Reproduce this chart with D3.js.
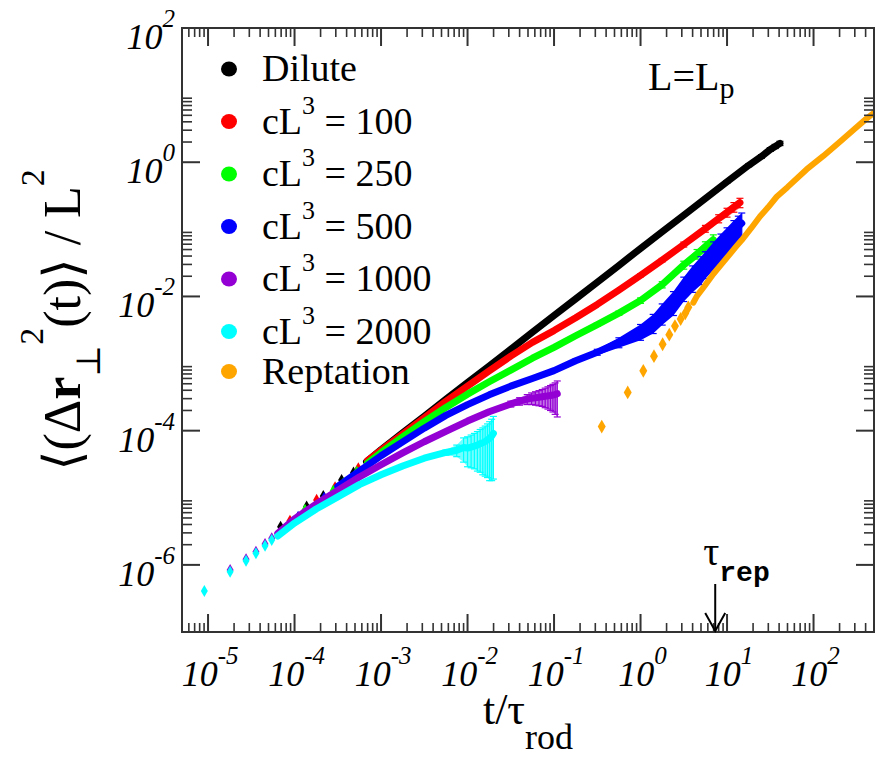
<!DOCTYPE html>
<html>
<head>
<meta charset="utf-8">
<script src="https://cdn.jsdelivr.net/npm/d3@7"></script>
<style>
  body { margin: 0; background: #fff; }
</style>
</head>
<body>
<div id="chart"></div>
<script>
// Axis ranges and ticks
const xDomain = [5e-6, 500];
const yDomain = [1e-7, 1e2];
const xMajorExps = [-5, -4, -3, -2, -1, 0, 1, 2];
const yMajorExps = [-6, -4, -2, 0, 2];
const tauRep = 7.3;

// Series: [t/tau_rod, <dr^2>/L^2, error]
const dilute = [
  [6.9e-5, 3.7e-6], [1.38e-4, 7.4e-6], [2.15e-4, 1.06e-5], [3.5e-4, 1.84e-5], [4.8e-4, 2.37e-5],
  [6.8e-4, 3.45e-5], [1e-3, 5.2e-5], [1.78e-3, 9.3e-5], [3.16e-3, 1.64e-4], [5.62e-3, 2.93e-4],
  [0.01, 5.2e-4], [0.0178, 9.2e-4], [0.0316, 1.64e-3], [0.0562, 2.92e-3], [0.1, 5.2e-3],
  [0.178, 9.2e-3], [0.316, 0.0163], [0.562, 0.029], [1, 0.052], [1.78, 0.092], [3.16, 0.162],
  [5.62, 0.288], [10, 0.51, 0.02], [17.8, 0.9, 0.04], [25, 1.22, 0.07], [31.6, 1.55, 0.1],
  [36, 1.72, 0.12], [40.9, 1.91, 0.14]
];
const conc100 = [
  [8.85e-5, 4.55e-6], [1.8e-4, 9.3e-6], [2.94e-4, 1.43e-5], [5.46e-4, 2.75e-5],
  [7e-4, 3.6e-5], [1e-3, 5.1e-5], [1.78e-3, 8.9e-5], [3.16e-3, 1.56e-4], [5.62e-3, 2.73e-4],
  [0.01, 4.6e-4], [0.0178, 7.8e-4], [0.0316, 1.29e-3], [0.0562, 2.07e-3], [0.1, 3.1e-3],
  [0.178, 4.8e-3], [0.316, 7.6e-3], [0.562, 0.0124], [1, 0.0206, 0.001], [1.78, 0.0348, 0.002],
  [3.16, 0.0595, 0.005], [5.62, 0.1025, 0.012], [8, 0.145, 0.02], [10, 0.179, 0.027],
  [12, 0.215, 0.035], [14.1, 0.25, 0.04]
];
const conc250 = [
  [1.32e-4, 6.6e-6], [2.8e-4, 1.27e-5], [3.66e-4, 1.64e-5], [5.24e-4, 2.45e-5],
  [7e-4, 3.3e-5], [1e-3, 4.7e-5], [1.78e-3, 8.1e-5], [3.16e-3, 1.36e-4], [5.62e-3, 2.22e-4],
  [0.01, 3.5e-4], [0.0178, 5.35e-4], [0.0316, 8.0e-4], [0.0562, 1.2e-3], [0.1, 1.74e-3],
  [0.178, 2.6e-3], [0.316, 3.8e-3, 2e-4], [0.562, 5.64e-3, 4e-4], [1, 8.7e-3, 8e-4],
  [1.78, 0.015, 0.0016], [3.16, 0.0295, 0.004], [4.5, 0.043, 0.007], [5.62, 0.0552, 0.01],
  [6.94, 0.0697, 0.013]
];
const conc500 = [
  [1.1e-4, 5.2e-6], [2.2e-4, 1.0e-5],
  [3.16e-4, 1.48e-5], [5.62e-4, 2.5e-5], [1e-3, 4.23e-5], [1.78e-3, 6.8e-5], [3.16e-3, 1.09e-4],
  [5.62e-3, 1.69e-4], [0.01, 2.44e-4], [0.0178, 3.42e-4], [0.0316, 4.61e-4], [0.0562, 6.0e-4],
  [0.1, 7.85e-4, 3e-5], [0.178, 1.1e-3, 6e-5], [0.316, 1.48e-3, 1.5e-4], [0.562, 2.07e-3, 3.5e-4],
  [1, 3.02e-3, 8e-4], [1.4, 4.1e-3, 1.3e-3], [1.78, 5.74e-3, 2e-3], [2.4, 8.5e-3, 3.3e-3],
  [3.16, 0.0139, 5.5e-3], [4, 0.02, 8.5e-3], [5, 0.027, 0.012], [5.62, 0.0324, 0.014],
  [7, 0.045, 0.02], [8.5, 0.059, 0.026], [10, 0.0733, 0.032], [12, 0.095, 0.04],
  [13.5, 0.11, 0.047], [14.8, 0.123, 0.052]
];
const conc1000 = [
  [1.8e-5, 8.4e-7], [2.75e-5, 1.21e-6], [3.58e-5, 1.57e-6], [4.56e-5, 2.05e-6], [5.45e-5, 2.49e-6],
  [6.4e-5, 2.95e-6], [1e-4, 4.86e-6], [1.78e-4, 8.07e-6], [3.16e-4, 1.29e-5], [5.62e-4, 2.04e-5],
  [1e-3, 3.11e-5], [1.78e-3, 4.66e-5], [3.16e-3, 6.84e-5], [5.62e-3, 9.75e-5],
  [0.01, 1.39e-4, 5e-6], [0.0178, 1.91e-4, 1e-5], [0.0316, 2.5e-4, 2.5e-5], [0.04, 2.75e-4, 3.5e-5],
  [0.049, 2.95e-4, 5e-5], [0.055, 3.05e-4, 6e-5], [0.061, 3.1e-4, 7e-5], [0.067, 3.15e-4, 8e-5],
  [0.073, 3.2e-4, 9e-5], [0.079, 3.25e-4, 1.05e-4], [0.085, 3.3e-4, 1.2e-4], [0.091, 3.35e-4, 1.35e-4],
  [0.097, 3.4e-4, 1.5e-4], [0.103, 3.45e-4, 1.7e-4], [0.109, 3.55e-4, 1.95e-4]
];
const conc2000 = [
  [9.06e-6, 4.08e-7], [1.8e-5, 7.9e-7], [2.75e-5, 1.15e-6], [3.58e-5, 1.49e-6], [4.56e-5, 1.93e-6],
  [5.45e-5, 2.35e-6],
  [6.4e-5, 2.7e-6], [1e-4, 4.2e-6], [1.78e-4, 6.8e-6], [3.16e-4, 1.03e-5], [5.62e-4, 1.57e-5],
  [1e-3, 2.2e-5], [1.78e-3, 2.98e-5], [3.16e-3, 3.89e-5], [5.62e-3, 4.73e-5, 4e-6],
  [0.0075, 5.1e-5, 1e-5], [0.009, 5.6e-5, 2.2e-5], [0.010, 5.5e-5, 2.6e-5], [0.011, 5.7e-5, 2.9e-5],
  [0.012, 5.9e-5, 3.2e-5], [0.013, 6.1e-5, 3.6e-5], [0.014, 6.4e-5, 4.0e-5], [0.015, 6.6e-5, 4.4e-5],
  [0.016, 6.9e-5, 4.8e-5], [0.017, 7.3e-5, 5.3e-5], [0.018, 7.7e-5, 5.9e-5], [0.019, 8.3e-5, 6.5e-5],
  [0.0199, 9.1e-5, 7.2e-5]
];
const reptation = [
  [0.356, 1.15e-4], [0.711, 3.71e-4], [1.076, 7.8e-4], [1.43, 1.29e-3], [1.80, 1.94e-3],
  [2.15, 2.69e-3], [2.50, 3.62e-3], [2.91, 4.61e-3], [3.29, 5.61e-3], [3.57, 6.89e-3],
  [4.07, 8.07e-3], [4.5, 0.0102], [5.5, 0.0143], [6.94, 0.0216], [8.5, 0.0296], [10.5, 0.041],
  [12.5, 0.0538], [14.8, 0.0693], [19, 0.104], [24, 0.155], [30, 0.215], [37.5, 0.306],
  [50, 0.425], [83, 0.78], [130, 1.24], [202, 2.02], [300, 3.15], [400, 4.35], [491, 5.36]
];

const legendLabels = ["Dilute", "cL^3 = 100", "cL^3 = 250", "cL^3 = 500", "cL^3 = 1000", "cL^3 = 2000", "Reptation"];
const seriesColors = ["#000000", "#ff0000", "#00ff00", "#0000ff", "#9400d3", "#00ffff", "#ffa500"];
// t from which the sampling is dense enough to look like a continuous band
const bandStarts = [6.8e-4, 7e-4, 7e-4, 3.16e-4, 6.4e-5, 6.4e-5, 4.07];
const seriesData = [dilute, conc100, conc250, conc500, conc1000, conc2000, reptation];

// Layout
const width = 882, height = 757;
const plot = { left: 182, top: 28, right: 874, bottom: 632 };
const fontFamily = "'Liberation Serif', 'DejaVu Serif', 'Liberation Sans', sans-serif";
const axisColor = "#333";

const svg = d3.select("#chart").append("svg")
    .attr("width", width)
    .attr("height", height)
    .style("font-family", fontFamily);

const x = d3.scaleLog().domain(xDomain).range([plot.left, plot.right]);
const y = d3.scaleLog().domain(yDomain).range([plot.bottom, plot.top]);

svg.append("defs").append("clipPath").attr("id", "clip")
    .append("rect")
    .attr("x", plot.left).attr("y", plot.top)
    .attr("width", plot.right - plot.left).attr("height", plot.bottom - plot.top);

// Data
const dataG = svg.append("g").attr("clip-path", "url(#clip)");
const yLow = (d) => y(Math.max(d[1] - (d[2] || 0), yDomain[0] / 10));
const yHigh = (d) => y(d[1] + (d[2] || 0));

seriesData.forEach((data, i) => {
    const color = seriesColors[i];
    const band = data.filter(d => d[0] >= bandStarts[i]);
    const sparse = data.filter(d => d[0] < bandStarts[i]);
    const g = dataG.append("g");

    // dense error bars merge into a filled region
    const withErr = band.filter(d => d[2]);
    if (withErr.length) {
        const first = band.indexOf(withErr[0]);
        const errPart = band.slice(Math.max(first - 1, 0));
        g.append("path")
            .attr("d", d3.area().x(d => x(d[0])).y0(yLow).y1(yHigh)(errPart))
            .attr("fill", color)
            .attr("fill-opacity", i === 3 ? 1 : 0.55);
    }

    g.append("path")
        .attr("d", d3.line().x(d => x(d[0])).y(d => y(d[1]))(band))
        .attr("fill", "none")
        .attr("stroke", color)
        .attr("stroke-width", i === 6 ? 6 : 7)
        .attr("stroke-linejoin", "round")
        .attr("stroke-linecap", "round");

    // individual error bars
    withErr.forEach(d => {
        const cx = x(d[0]);
        g.append("line").attr("x1", cx).attr("x2", cx).attr("y1", yLow(d)).attr("y2", yHigh(d))
            .attr("stroke", color).attr("stroke-width", 1.2);
        [yLow(d), yHigh(d)].forEach(cy => {
            g.append("line").attr("x1", cx - 3.5).attr("x2", cx + 3.5).attr("y1", cy).attr("y2", cy)
                .attr("stroke", color).attr("stroke-width", 1.2);
        });
    });

    g.selectAll("path.pt").data(sparse).join("path")
        .attr("class", "pt")
        .attr("transform", d => `translate(${x(d[0])},${y(d[1])})`)
        .attr("d", d3.symbol(d3.symbolDiamond, i === 6 ? 55 : 42))
        .attr("fill", color);
});

// Frame
svg.append("rect")
    .attr("x", plot.left).attr("y", plot.top)
    .attr("width", plot.right - plot.left).attr("height", plot.bottom - plot.top)
    .attr("fill", "none").attr("stroke", axisColor).attr("stroke-width", 2);

// Ticks (inward, mirrored on all sides)
const ticksG = svg.append("g").attr("stroke", axisColor);
const inRange = (v, dom) => v >= dom[0] * 0.999 && v <= dom[1] * 1.001;

function xTick(v, len, w) {
    const px = x(v);
    ticksG.append("line").attr("x1", px).attr("x2", px).attr("y1", plot.bottom).attr("y2", plot.bottom - len).attr("stroke-width", w);
    ticksG.append("line").attr("x1", px).attr("x2", px).attr("y1", plot.top).attr("y2", plot.top + len).attr("stroke-width", w);
}
function yTick(v, len, w) {
    const py = y(v);
    ticksG.append("line").attr("x1", plot.left).attr("x2", plot.left + len).attr("y1", py).attr("y2", py).attr("stroke-width", w);
    ticksG.append("line").attr("x1", plot.right).attr("x2", plot.right - len).attr("y1", py).attr("y2", py).attr("stroke-width", w);
}

d3.range(-6, 3).forEach(e => {
    d3.range(2, 10).forEach(k => {
        const v = k * Math.pow(10, e);
        if (inRange(v, xDomain)) xTick(v, 9, 1.6);
    });
});
xMajorExps.forEach(e => xTick(Math.pow(10, e), 18, 2));

yMajorExps.forEach(e => {
    d3.range(2, 10).forEach(k => {
        const v = k * Math.pow(10, e);
        if (inRange(v, yDomain)) yTick(v, 10, 1.6);
    });
    yTick(Math.pow(10, e), 18, 2);
});

// Tick labels
function powerLabel(sel, e) {
    sel.append("tspan").text("10");
    sel.append("tspan").attr("dy", -22).attr("font-size", 25).text(e);
}
xMajorExps.forEach(e => {
    svg.append("text")
        .attr("x", x(Math.pow(10, e)) + 2)
        .attr("y", plot.bottom + 54)
        .attr("text-anchor", "middle")
        .attr("font-size", 36)
        .attr("font-style", "italic")
        .call(powerLabel, e);
});
yMajorExps.forEach(e => {
    svg.append("text")
        .attr("x", 175)
        .attr("y", y(Math.pow(10, e)) + 21)
        .attr("text-anchor", "end")
        .attr("font-size", 36)
        .attr("font-style", "italic")
        .call(powerLabel, e);
});

// Axis titles
const xt = svg.append("text")
    .attr("x", (plot.left + plot.right) / 2)
    .attr("y", 724)
    .attr("text-anchor", "middle")
    .attr("font-size", 44);
xt.append("tspan").text("t/\u03c4");
xt.append("tspan").attr("dy", 25).attr("font-size", 36).text("rod");

const yt = svg.append("text")
    .attr("transform", "translate(80,320) rotate(-90)")
    .attr("text-anchor", "middle")
    .attr("font-size", 52);
yt.append("tspan").text("\u27e8(\u0394");
yt.append("tspan").attr("font-weight", "bold").text("r");
yt.append("tspan").attr("dy", 20).attr("font-size", 34).text("\u22a5");
yt.append("tspan").attr("dy", -57).attr("font-size", 34).text("2");
yt.append("tspan").attr("dy", 37).text("(t)\u27e9 / L");
yt.append("tspan").attr("dy", -36).attr("font-size", 34).text("2");

// Legend
const legend = svg.append("g");
let rowY = 69;
legendLabels.forEach((label, i) => {
    if (i > 0) rowY += label.includes("^") ? 52.5 : 40;
    legend.append("ellipse")
        .attr("cx", 229).attr("cy", rowY)
        .attr("rx", 8).attr("ry", 7.5)
        .attr("fill", seriesColors[i]);
    const t = legend.append("text")
        .attr("x", 262).attr("y", rowY + 12)
        .attr("font-size", 38);
    const parts = label.split("^");
    t.append("tspan").text(parts[0]);
    if (parts.length > 1) {
        t.append("tspan").attr("dy", -20).attr("font-size", 26).text(parts[1][0]);
        t.append("tspan").attr("dy", 20).text(parts[1].slice(1));
    }
});

// L = Lp annotation
const lp = svg.append("text").attr("x", 648).attr("y", 90).attr("font-size", 40);
lp.append("tspan").text("L=L");
lp.append("tspan").attr("dy", 8).attr("font-size", 30).text("p");

// tau_rep arrow
const ax = x(tauRep);
const tr = svg.append("text").attr("x", ax - 12).attr("y", 565).attr("font-size", 40);
tr.append("tspan").text("\u03c4");
tr.append("tspan").attr("dy", 16).attr("font-size", 28).attr("font-weight", "bold")
    .style("font-family", "'Liberation Mono', 'DejaVu Sans Mono', monospace").text("rep");
svg.append("line").attr("x1", ax).attr("x2", ax).attr("y1", 584).attr("y2", plot.bottom - 1)
    .attr("stroke", "#000").attr("stroke-width", 2);
svg.append("path")
    .attr("d", `M${ax - 10},${plot.bottom - 19}L${ax},${plot.bottom - 1}L${ax + 10},${plot.bottom - 19}`)
    .attr("fill", "none").attr("stroke", "#000").attr("stroke-width", 2);
</script>
</body>
</html>
